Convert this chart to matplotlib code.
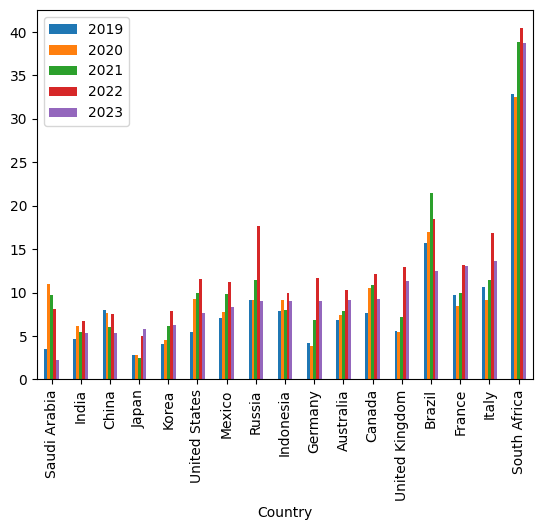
import matplotlib
matplotlib.use("Agg")
import matplotlib.pyplot as plt
import pandas as pd

countries = ["Saudi Arabia", "India", "China", "Japan", "Korea", "United States",
             "Mexico", "Russia", "Indonesia", "Germany", "Australia", "Canada",
             "United Kingdom", "Brazil", "France", "Italy", "South Africa"]

v2019 = [3.5, 4.7, 8.0, 2.8, 4.1, 5.5, 7.1, 9.1, 7.9, 4.2, 6.8, 7.6, 5.6, 15.7, 9.7, 10.6, 32.9]
v2020 = [11.0, 6.1, 7.7, 2.8, 4.5, 9.3, 7.8, 9.2, 9.1, 3.9, 7.4, 10.5, 5.5, 17.0, 8.5, 9.2, 32.5]
v2021 = [9.7, 5.5, 6.0, 2.5, 6.1, 10.0, 9.8, 11.5, 8.0, 6.8, 7.9, 10.9, 7.2, 21.5, 9.9, 11.5, 38.9]
v2022 = [8.1, 6.7, 7.5, 5.0, 7.9, 11.6, 11.2, 17.7, 10.0, 11.7, 10.3, 12.1, 13.0, 18.5, 13.2, 16.9, 40.5]
v2023 = [2.3, 5.4, 5.4, 5.8, 6.3, 7.7, 8.3, 9.0, 9.0, 9.0, 9.2, 9.3, 11.3, 12.5, 13.1, 13.6, 38.7]

df = pd.DataFrame({"2019": v2019, "2020": v2020, "2021": v2021,
                   "2022": v2022, "2023": v2023},
                  index=pd.Index(countries, name="Country"))

fig, ax = plt.subplots(figsize=(5.43, 5.30), dpi=100)
df.plot.bar(ax=ax)
ax.legend(loc="upper left")
fig.subplots_adjust(left=0.068, right=0.982, top=0.981, bottom=0.284)
fig.savefig("out.png", dpi=100)
